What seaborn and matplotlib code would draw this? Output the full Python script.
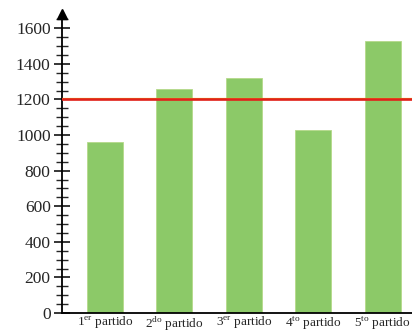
import matplotlib
matplotlib.use("Agg")
import matplotlib.pyplot as plt
import seaborn as sns
import pandas as pd
from matplotlib.ticker import MultipleLocator

partidos = ["1$^{\\rm er}$ partido", "2$^{\\rm do}$ partido", "3$^{\\rm er}$ partido",
            "4$^{\\rm to}$ partido", "5$^{\\rm to}$ partido"]
asistentes = [960, 1260, 1320, 1030, 1530]
promedio = 1200
y_ticks = [0, 200, 400, 600, 800, 1000, 1200, 1400, 1600]

sns.set_style("white")
plt.rcParams["font.family"] = ["Liberation Serif", "DejaVu Serif"]
plt.rcParams["mathtext.fontset"] = "custom"
plt.rcParams["mathtext.rm"] = "Liberation Serif"

df = pd.DataFrame({"partido": partidos, "asistentes": asistentes})

fig = plt.figure(figsize=(4.12, 3.33), dpi=100)
ax = fig.add_axes([0.150, 0.060, 0.85, 0.898])

sns.barplot(data=df, x="partido", y="asistentes", color="#8cc968",
            width=0.52, saturation=1, edgecolor="#b5d98a", linewidth=0.6, ax=ax)

# linea del promedio (borde amarillo arriba, rojo)
ax.axhline(promedio + 5, color="#f5d020", lw=1.6, zorder=3)
ax.axhline(promedio, color="#e0201c", lw=1.9, zorder=4)

ax.set_xlim(-0.62, 4.42)
ax.set_ylim(0, 1680)
ax.set_yticks(y_ticks)
ax.yaxis.set_minor_locator(MultipleLocator(50))
ax.tick_params(axis="y", which="major", direction="inout", length=12, width=1.3,
               labelsize=12.5, pad=2, left=True)
ax.tick_params(axis="y", which="minor", direction="inout", length=9, width=1.0, left=True)
ax.tick_params(axis="x", length=0, labelsize=9.5, pad=1)
ax.set_xlabel("")
ax.set_ylabel("")

for s in ["top", "right"]:
    ax.spines[s].set_visible(False)
ax.spines["left"].set_linewidth(1.3)
ax.spines["bottom"].set_linewidth(1.3)
ax.spines["left"].set_color("black")
ax.spines["bottom"].set_color("black")

# flecha del eje y
ax.plot(0, 1, marker="^", color="black", markersize=7, transform=ax.transAxes, clip_on=False)

fig.savefig("out.png", dpi=100)
